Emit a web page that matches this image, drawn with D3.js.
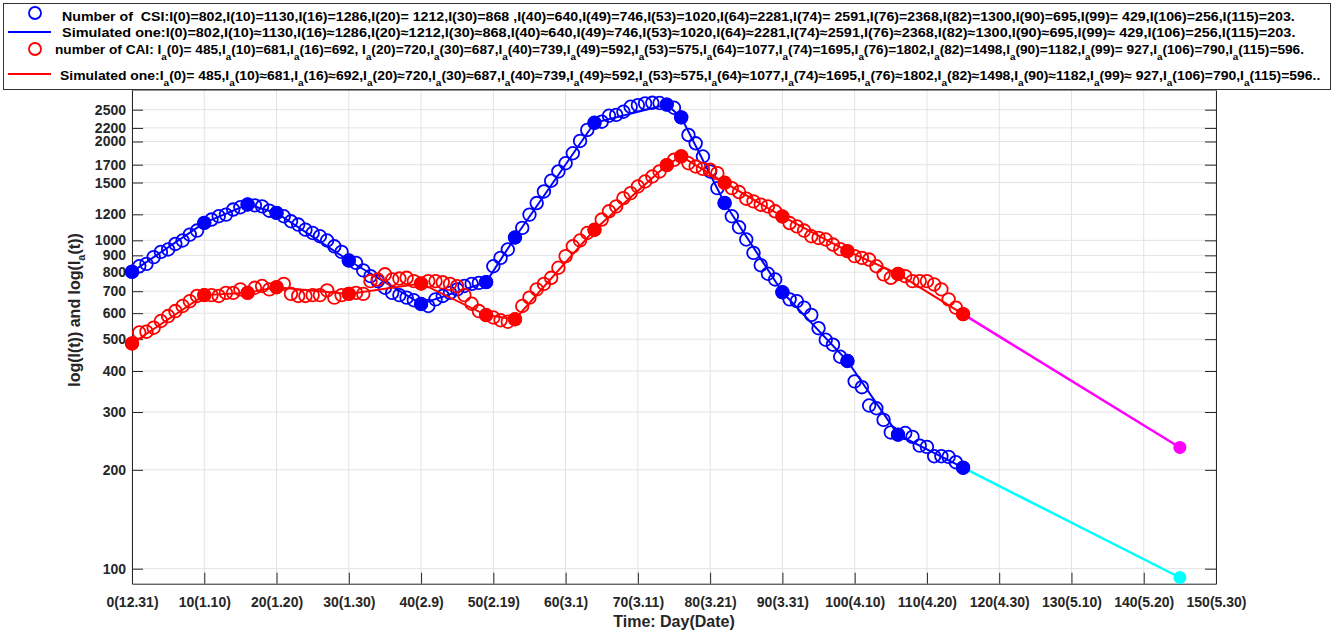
<!DOCTYPE html>
<html>
  <head>
    <title>log(I(t)) and log(Ia(t))</title>
    <meta charset="utf-8">
    <script src="https://d3js.org/d3.v7.min.js"></script>
    <style>
    body { margin: 0; background: #fff; }
    svg text { font-family: 'Liberation Sans', Arial, sans-serif; font-weight: bold; }
    .grid line { stroke: #e3e3e3; stroke-width: 1; }
    .axis path, .axis line { stroke: #262626; stroke-width: 1; }
    .axis text { fill: #262626; font-size: 14px; font-family: 'Liberation Sans', Arial, sans-serif; font-weight: bold; }
    .legend text { white-space: pre; }
    </style>
  </head>
  <body>
    <script>

      // daily counts, day 0 (12.31) .. day 115
      var csiCounts = [802,834,848,889,922,938,975,999,1041,1071,
        1130,1157,1184,1198,1241,1261,1286,1278,1269,1231,
        1212,1184,1143,1117,1078,1053,1029,999,959,922,
        868,854,810,778,751,717,692,681,669,657,
        640,631,661,677,692,709,726,737,742,746,
        834,884,938,1020,1091,1198,1299,1409,1519,1621,
        1717,1842,2008,2169,2281,2298,2396,2410,2464,2552,
        2582,2612,2624,2620,2591,2534,2368,2094,1975,1800,
        1621,1442,1300,1184,1096,1006,916,840,791,760,
        695,661,653,624,593,540,498,481,442,429,
        372,357,314,308,284,260,256,259,252,237,
        235,220,220,219,211,203];
      var caiCounts = [485,524,527,542,568,588,609,631,653,677,
        681,681,677,692,692,709,692,717,726,709,
        720,737,687,677,677,681,681,704,669,681,
        687,692,687,751,760,788,760,765,769,751,
        739,751,751,745,737,725,681,641,609,592,
        582,571,565,575,631,669,709,737,769,825,
        895,959,999,1053,1077,1157,1226,1269,1345,1392,
        1459,1511,1565,1621,1695,1759,1802,1717,1678,1651,
        1640,1602,1498,1442,1403,1339,1314,1284,1269,1226,
        1182,1129,1103,1071,1029,1017,1006,971,940,927,
        895,884,874,834,788,769,790,778,751,751,
        751,734,709,661,624,596];

      // key days used by the simulated curves
      var keyDays = [0,10,16,20,30,40,49,53,64,74,76,82,90,99,106,115];
      var csiKey = [802,1130,1286,1212,868,640,746,1020,2281,2591,2368,1300,695,429,256,203];
      var caiKey = [485,681,692,720,687,739,592,575,1077,1695,1802,1498,1182,927,790,596];

      // forecast segments
      var forecastDays = [115,145];
      var csiForecast = [203,94];
      var caiForecast = [596,234];

      var xTicks = [0,10,20,30,40,50,60,70,80,90,100,110,120,130,140,150];
      var xTickLabels = ["0(12.31)","10(1.10)","20(1.20)","30(1.30)","40(2.9)","50(2.19)","60(3.1)","70(3.11)",
        "80(3.21)","90(3.31)","100(4.10)","110(4.20)","120(4.30)","130(5.10)","140(5.20)","150(5.30)"];
      var yTicks = [100,200,300,400,500,600,700,800,900,1000,1200,1500,1700,2000,2200,2500];

      var legendLabels = [
        "Number of  CSI:I(0)=802,I(10)=1130,I(16)=1286,I(20)= 1212,I(30)=868 ,I(40)=640,I(49)=746,I(53)=1020,I(64)=2281,I(74)= 2591,I(76)=2368,I(82)=1300,I(90)=695,I(99)= 429,I(106)=256,I(115)=203.",
        "Simulated one:I(0)=802,I(10)\u22481130,I(16)\u22481286,I(20)\u22481212,I(30)\u2248868,I(40)\u2248640,I(49)\u2248746,I(53)\u22481020,I(64)\u22482281,I(74)\u22482591,I(76)\u22482368,I(82)\u22481300,I(90)\u2248695,I(99)\u2248 429,I(106)=256,I(115)=203.",
        "number of CAI: I_a(0)= 485,I_a(10)=681,I_a(16)=692, I_a(20)=720,I_a(30)=687,I_a(40)=739,I_a(49)=592,I_a(53)=575,I_a(64)=1077,I_a(74)=1695,I_a(76)=1802,I_a(82)=1498,I_a(90)=1182,I_a(99)= 927,I_a(106)=790,I_a(115)=596.",
        "Simulated one:I_a(0)= 485,I_a(10)\u2248681,I_a(16)\u2248692,I_a(20)\u2248720,I_a(30)\u2248687,I_a(40)\u2248739,I_a(49)\u2248592,I_a(53)\u2248575,I_a(64)\u22481077,I_a(74)\u22481695,I_a(76)\u22481802,I_a(82)\u22481498,I_a(90)\u22481182,I_a(99)\u2248 927,I_a(106)=790,I_a(115)=596.."
      ];

      // setup
      var w = 1335, h = 637;
      var plotLeft = 132, plotRight = 1216, plotTop = 90, plotBottom = 583.7;
      var blue = "#0000ff", red = "#ff0000";

      var svg = d3.select("body").append("svg")
          .attr("width", w)
          .attr("height", h);

      var xScale = d3.scaleLinear().domain([0, 150]).range([plotLeft, plotRight]);
      var yScale = d3.scaleLog().domain([90, 2870]).range([plotBottom, plotTop]);

      // gridlines
      var grid = svg.append("g").attr("class", "grid");
      grid.selectAll(".gx").data(xTicks).enter().append("line")
          .attr("x1", d => xScale(d)).attr("x2", d => xScale(d))
          .attr("y1", plotTop).attr("y2", plotBottom);
      grid.selectAll(".gy").data(yTicks).enter().append("line")
          .attr("x1", plotLeft).attr("x2", plotRight)
          .attr("y1", d => yScale(d)).attr("y2", d => yScale(d));

      // axes, ticks pointing inward
      var xAxis = d3.axisBottom(xScale).tickValues(xTicks)
          .tickFormat((d, i) => xTickLabels[i])
          .tickSizeInner(-11).tickSizeOuter(0).tickPadding(13);
      var yAxis = d3.axisLeft(yScale).tickValues(yTicks)
          .tickFormat(d3.format("d"))
          .tickSizeInner(-11).tickSizeOuter(0).tickPadding(6);
      var yAxisRight = d3.axisRight(yScale).tickValues(yTicks)
          .tickFormat("").tickSizeInner(-11).tickSizeOuter(0);

      svg.append("g").attr("class", "axis")
          .attr("transform", "translate(0," + plotBottom + ")").call(xAxis);
      svg.append("g").attr("class", "axis")
          .attr("transform", "translate(" + plotLeft + ",0)").call(yAxis);
      svg.append("g").attr("class", "axis")
          .attr("transform", "translate(" + plotRight + ",0)").call(yAxisRight);
      svg.append("line").attr("x1", plotLeft).attr("x2", plotRight).attr("y1", plotTop).attr("y2", plotTop)
          .attr("stroke", "#262626");

      var line = d3.line().x(d => xScale(d[0])).y(d => yScale(d[1]));
      var plot = svg.append("g");

      function drawSeries(counts, keys, fore, color, foreColor) {
        var daily = counts.map((v, i) => [i, v]);
        var keyPts = keyDays.map((d, i) => [d, keys[i]]);
        var forePts = forecastDays.map((d, i) => [d, fore[i]]);
        plot.append("path").datum(keyPts).attr("d", line)
            .attr("fill", "none").attr("stroke", color).attr("stroke-width", 2);
        plot.append("path").datum(forePts).attr("d", line)
            .attr("fill", "none").attr("stroke", foreColor).attr("stroke-width", 2.5);
        plot.append("g").selectAll("circle").data(daily).enter().append("circle")
            .attr("cx", d => xScale(d[0])).attr("cy", d => yScale(d[1])).attr("r", 6.3)
            .attr("fill", "none").attr("stroke", color).attr("stroke-width", 1.8);
        return { keyPts: keyPts, forePts: forePts };
      }

      var b = drawSeries(csiCounts, csiKey, csiForecast, blue, "#00ffff");
      var r = drawSeries(caiCounts, caiKey, caiForecast, red, "#ff00ff");

      [[b.keyPts, blue], [r.keyPts, red]].forEach(function(s) {
        plot.append("g").selectAll("circle").data(s[0]).enter().append("circle")
            .attr("cx", d => xScale(d[0])).attr("cy", d => yScale(d[1])).attr("r", 7)
            .attr("fill", s[1]);
      });
      plot.append("circle").attr("cx", xScale(forecastDays[1])).attr("cy", yScale(csiForecast[1]))
          .attr("r", 6.5).attr("fill", "#00ffff");
      plot.append("circle").attr("cx", xScale(forecastDays[1])).attr("cy", yScale(caiForecast[1]))
          .attr("r", 6.5).attr("fill", "#ff00ff");

      // axis titles
      svg.append("text").attr("x", (plotLeft + plotRight) / 2).attr("y", 627)
          .attr("text-anchor", "middle").attr("font-size", 16).attr("fill", "#262626")
          .text("Time: Day(Date)");
      var ylab = svg.append("text").attr("text-anchor", "middle").attr("font-size", 16)
          .attr("fill", "#262626")
          .attr("transform", "translate(80,310) rotate(-90)");
      ylab.append("tspan").text("log(I(t)) and log(I");
      ylab.append("tspan").attr("font-size", 11).attr("dy", 5).text("a");
      ylab.append("tspan").attr("dy", -5).text("(t))");

      // legend
      var legend = svg.append("g").attr("class", "legend");
      legend.append("rect").attr("x", 3.5).attr("y", 3.5).attr("width", 1327).attr("height", 86)
          .attr("fill", "#fff").attr("stroke", "#333").attr("stroke-width", 1);
      var rowY = [16, 32, 49, 75];
      var rowX = [62, 62, 55, 60];
      var rowEnd = [1296, 1296, 1305, 1322];

      legend.append("circle").attr("cx", 35).attr("cy", rowY[0] - 3).attr("r", 6)
          .attr("fill", "none").attr("stroke", blue).attr("stroke-width", 1.8);
      legend.append("line").attr("x1", 8).attr("x2", 51).attr("y1", rowY[1]).attr("y2", rowY[1])
          .attr("stroke", blue).attr("stroke-width", 2);
      legend.append("circle").attr("cx", 35).attr("cy", rowY[2]).attr("r", 6)
          .attr("fill", "none").attr("stroke", red).attr("stroke-width", 1.8);
      legend.append("line").attr("x1", 8).attr("x2", 51).attr("y1", rowY[3] - 1).attr("y2", rowY[3] - 1)
          .attr("stroke", red).attr("stroke-width", 2);

      legendLabels.forEach(function(lab, i) {
        var t = legend.append("text").attr("font-size", 12.5).attr("fill", "#000");
        var parts = lab.split("_a");
        parts.forEach(function(p, j) {
          if (j > 0) {
            t.append("tspan").attr("font-size", 9).attr("dy", 6).text("a");
            t.append("tspan").attr("dy", -6).text(p);
          } else {
            t.append("tspan").text(p);
          }
        });
        var wd = t.node().getComputedTextLength();
        var sx = (rowEnd[i] - rowX[i]) / wd;
        t.attr("transform", "translate(" + rowX[i] + "," + (rowY[i] + 4.5) + ") scale(" + sx + ",1)");
      });

    </script>
  </body>
</html>
